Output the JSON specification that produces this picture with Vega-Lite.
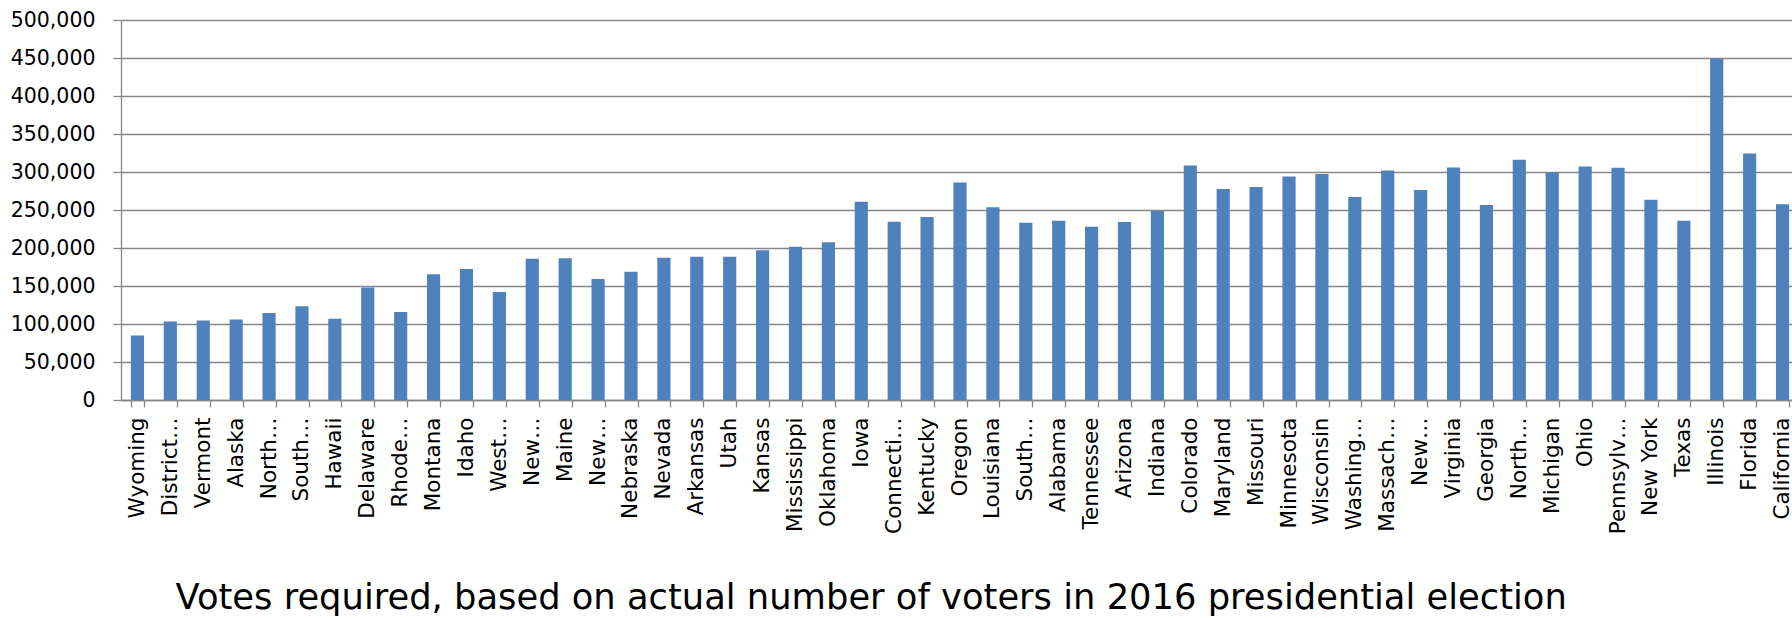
{
  "$schema": "https://vega.github.io/schema/vega-lite/v6.json",
  "width": 1671,
  "height": 380,
  "autosize": {"type": "none"},
  "padding": {"left": 121, "top": 20, "right": 0, "bottom": 218},
  "background": "white",
  "config": {"view": {"stroke": null}},
  "data": {
    "values": [
      {"state": "Wyoming", "votes": 85000},
      {"state": "District of Columbia", "votes": 103400},
      {"state": "Vermont", "votes": 104700},
      {"state": "Alaska", "votes": 106000},
      {"state": "North Dakota", "votes": 114400},
      {"state": "South Dakota", "votes": 123200},
      {"state": "Hawaii", "votes": 107000},
      {"state": "Delaware", "votes": 147900},
      {"state": "Rhode Island", "votes": 115700},
      {"state": "Montana", "votes": 165500},
      {"state": "Idaho", "votes": 172500},
      {"state": "West Virginia", "votes": 142200},
      {"state": "New Hampshire", "votes": 185700},
      {"state": "Maine", "votes": 186600},
      {"state": "New Mexico", "votes": 159300},
      {"state": "Nebraska", "votes": 168600},
      {"state": "Nevada", "votes": 187100},
      {"state": "Arkansas", "votes": 188400},
      {"state": "Utah", "votes": 188400},
      {"state": "Kansas", "votes": 197200},
      {"state": "Mississippi", "votes": 201600},
      {"state": "Oklahoma", "votes": 207700},
      {"state": "Iowa", "votes": 261000},
      {"state": "Connecticut", "votes": 234600},
      {"state": "Kentucky", "votes": 240800},
      {"state": "Oregon", "votes": 286100},
      {"state": "Louisiana", "votes": 253500},
      {"state": "South Carolina", "votes": 233300},
      {"state": "Alabama", "votes": 235900},
      {"state": "Tennessee", "votes": 228000},
      {"state": "Arizona", "votes": 234200},
      {"state": "Indiana", "votes": 248700},
      {"state": "Colorado", "votes": 308500},
      {"state": "Maryland", "votes": 277700},
      {"state": "Missouri", "votes": 280400},
      {"state": "Minnesota", "votes": 294000},
      {"state": "Wisconsin", "votes": 297500},
      {"state": "Washington", "votes": 267200},
      {"state": "Massachusetts", "votes": 301900},
      {"state": "New Jersey", "votes": 276400},
      {"state": "Virginia", "votes": 305900},
      {"state": "Georgia", "votes": 256600},
      {"state": "North Carolina", "votes": 316000},
      {"state": "Michigan", "votes": 299300},
      {"state": "Ohio", "votes": 307200},
      {"state": "Pennsylvania", "votes": 305500},
      {"state": "New York", "votes": 263600},
      {"state": "Texas", "votes": 235900},
      {"state": "Illinois", "votes": 449000},
      {"state": "Florida", "votes": 324400},
      {"state": "California", "votes": 257500}
    ]
  },
  "mark": {"type": "bar", "color": "#4F81BD"},
  "encoding": {
    "x": {
      "field": "state",
      "type": "nominal",
      "sort": null,
      "scale": {"range": [0, 1678], "paddingInner": 0.6, "paddingOuter": 0.3},
      "axis": {
        "title": "Votes required, based on actual number of voters in 2016 presidential election",
        "titleFont": "DejaVu Sans",
        "titleFontSize": 35.3,
        "titleFontWeight": "normal",
        "titleColor": "black",
        "titleAnchor": "start",
        "titleAlign": "left",
        "titleX": 54,
        "titleY": 208,
        "titleBaseline": "alphabetic",
        "labelAngle": -90,
        "labelFont": "DejaVu Sans",
        "labelFontSize": 21.5,
        "labelColor": "black",
        "labelPadding": 10,
        "labelLimit": 400,
        "labelOverlap": false,
        "labelExpr": "({'District of Columbia':'District…','North Dakota':'North…','South Dakota':'South…','Rhode Island':'Rhode…','West Virginia':'West…','New Hampshire':'New…','New Mexico':'New…','Connecticut':'Connecti…','South Carolina':'South…','Washington':'Washing…','Massachusetts':'Massach…','New Jersey':'New…','North Carolina':'North…','Pennsylvania':'Pennsylv…'})[datum.value] || datum.value",
        "tickBand": "extent",
        "tickSize": 7,
        "tickColor": "#868686",
        "tickWidth": 1.3,
        "domainColor": "#868686",
        "domainWidth": 1.3,
        "grid": false
      }
    },
    "y": {
      "field": "votes",
      "type": "quantitative",
      "scale": {"domain": [0, 500000], "nice": false},
      "axis": {
        "title": null,
        "values": [0, 50000, 100000, 150000, 200000, 250000, 300000, 350000, 400000, 450000, 500000],
        "format": ",.0f",
        "labelFont": "DejaVu Sans",
        "labelFontSize": 20.5,
        "labelColor": "black",
        "labelPadding": 18,
        "tickSize": 8,
        "tickColor": "#868686",
        "tickWidth": 1.3,
        "domainColor": "#868686",
        "domainWidth": 1.3,
        "grid": true,
        "gridColor": "#868686",
        "gridWidth": 1.3,
        "gridOpacity": 1
      }
    }
  }
}
